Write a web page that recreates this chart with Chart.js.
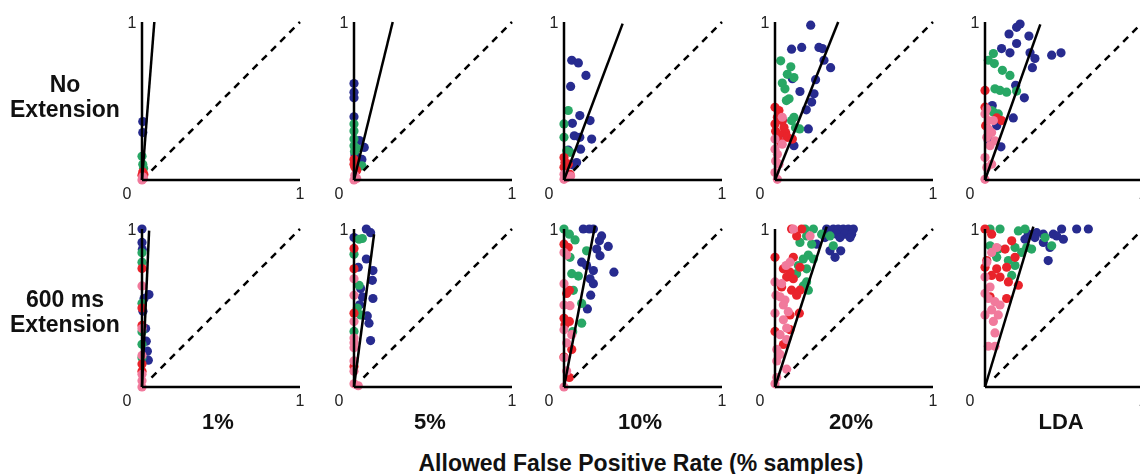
<!DOCTYPE html>
<html>
<head>
<meta charset="utf-8">
<script src="https://cdn.jsdelivr.net/npm/chart.js@4/dist/chart.umd.min.js"></script>
<style>
  html, body { margin: 0; padding: 0; background: #fff; overflow: hidden; }
  #fig { position: relative; width: 1140px; height: 474px; font-family: "Liberation Sans", Arial, sans-serif; color: #111; }
  #fig canvas { position: absolute; }
  .lbl { position: absolute; font-weight: bold; font-size: 22px; text-align: center; line-height: 25px; white-space: nowrap; }
</style>
</head>
<body>
<div id="fig"></div>
<script>
// ---- labels ----
const methodLabels = ['1%', '5%', '10%', '20%', 'LDA'];
const rowLabels = [['No', 'Extension'], ['600 ms', 'Extension']];
const xTitle = 'Allowed False Positive Rate (% samples)';

// ---- reference lines ----
const diagonal = [[0.06, 0.06], [1, 1]];
const slopeTop = [[0.078, 1.0], [0.245, 1.0], [0.371, 0.99], [0.40, 1.0], [0.35, 0.985]];
const slopeBottom = [[0.045, 0.99], [0.127, 0.967], [0.196, 1.02], [0.327, 1.015], [0.306, 1.015]];

// ---- No Extension (top row) ----
const top1Blue = [[0.005, 0.37], [0.005, 0.30]];
const top1Green = [[0, 0.15], [0.005, 0.10], [0.01, 0.075]];
const top1Red = [[0.005, 0.05], [0.012, 0.035], [0, 0.03]];
const top1Pink = [[0, 0], [0.01, 0.01], [0.005, 0.02]];

const top2Blue = [[0, 0.61], [0, 0.556], [0, 0.52], [0, 0.40], [0.034, 0.25], [0.065, 0.206], [0.05, 0.13], [0.006, 0.16]];
const top2Green = [[0, 0.355], [0, 0.31], [0, 0.26], [0, 0.217], [0.017, 0.2], [0.05, 0.09], [0.003, 0.18]];
const top2Red = [[0, 0.13], [0, 0.1], [0.006, 0.08], [0.017, 0.06]];
const top2Pink = [[0, 0], [0.017, 0.01], [0.005, 0.03]];

const top3Blue = [[0.049, 0.758], [0.091, 0.741], [0.139, 0.662], [0.042, 0.592], [0.10, 0.408], [0.165, 0.376], [0.053, 0.359], [0.065, 0.28], [0.10, 0.27], [0.175, 0.259], [0.105, 0.195], [0.027, 0.19], [0.08, 0.11], [0.059, 0.095]];
const top3Green = [[0.027, 0.44], [0, 0.355], [0, 0.27], [0.017, 0.185], [0.038, 0.175]];
const top3Red = [[0, 0.142], [0.006, 0.11], [0.027, 0.1], [0, 0.08], [0.038, 0.036]];
const top3Pink = [[0, 0.036], [0.017, 0.015], [0, 0.004], [0.042, 0.025]];

const top4Blue = [[0.226, 0.98], [0.105, 0.828], [0.169, 0.839], [0.278, 0.839], [0.30, 0.832], [0.31, 0.758], [0.352, 0.711], [0.11, 0.641], [0.257, 0.635], [0.158, 0.56], [0.247, 0.546], [0.232, 0.493], [0.198, 0.444], [0.211, 0.323], [0.12, 0.217], [0.046, 0.376], [0.068, 0.29]];
const top4Green = [[0.036, 0.754], [0.10, 0.716], [0.078, 0.669], [0.12, 0.648], [0.046, 0.614], [0.063, 0.577], [0.089, 0.514], [0.072, 0.503], [0.12, 0.397], [0.105, 0.376], [0.156, 0.323], [0.13, 0.33]];
const top4Red = [[0, 0.46], [0.025, 0.44], [0.015, 0.397], [0.046, 0.376], [0, 0.355], [0.057, 0.333], [0.004, 0.308], [0.067, 0.30], [0.025, 0.287], [0.078, 0.27], [0.11, 0.259], [0.036, 0.238]];
const top4Pink = [[0.046, 0.397], [0, 0.259], [0, 0.195], [0.015, 0.163], [0.004, 0.121], [0.025, 0.10], [0, 0.047], [0.015, 0.004], [0.046, 0.227]];

const top5Blue = [[0.222, 0.987], [0.20, 0.966], [0.152, 0.924], [0.278, 0.911], [0.20, 0.864], [0.105, 0.832], [0.158, 0.805], [0.285, 0.805], [0.316, 0.769], [0.30, 0.711], [0.422, 0.79], [0.481, 0.805], [0.194, 0.599], [0.249, 0.52], [0.179, 0.393], [0.046, 0.471], [0.074, 0.344], [0.101, 0.21], [0.021, 0.248]];
const top5Green = [[0.053, 0.80], [0.021, 0.758], [0.059, 0.737], [0.11, 0.694], [0.158, 0.662], [0.063, 0.577], [0.095, 0.567], [0.137, 0.556], [0.20, 0.563], [0.042, 0.44], [0.084, 0.418], [0.053, 0.43]];
const top5Red = [[0, 0.567], [0, 0.461], [0.074, 0.393], [0.105, 0.376], [0.004, 0.344]];
const top5Pink = [[0.011, 0.45], [0, 0.418], [0.021, 0.323], [0.042, 0.30], [0.011, 0.27], [0.063, 0.248], [0.032, 0.217], [0, 0.142], [0.042, 0.10], [0.011, 0.079], [0, 0.004], [0.021, 0.376], [0.053, 0.376]];

// ---- 600 ms Extension (bottom row) ----
const bot1Blue = [[0, 1.0], [0, 0.915], [0.002, 0.87], [0.044, 0.585], [0.013, 0.56], [0.023, 0.37], [0.027, 0.29], [0.034, 0.227], [0.04, 0.17], [0.006, 0.48]];
const bot1Green = [[0, 0.85], [0, 0.79], [0, 0.53], [0, 0.35], [0, 0.27], [0, 0.185]];
const bot1Red = [[0, 0.75], [0, 0.5], [0, 0.39], [0, 0.145], [0, 0.10]];
const bot1Pink = [[0, 0.64], [0, 0.37], [0, 0.2], [0, 0.08], [0, 0], [0, 0.04]];

const bot2Blue = [[0, 0.946], [0.078, 1.0], [0.105, 0.977], [0.078, 0.81], [0.027, 0.758], [0.12, 0.737], [0.116, 0.675], [0.042, 0.623], [0.12, 0.56], [0.036, 0.52], [0.095, 0.404], [0.105, 0.294], [0.053, 0.57], [0.084, 0.45]];
const bot2Green = [[0.032, 0.935], [0.053, 0.94], [0, 0.84], [0.032, 0.644], [0.042, 0.456], [0, 0.352], [0.021, 0.5]];
const bot2Red = [[0, 0.877], [0, 0.748], [0, 0.467], [0, 0.13]];
const bot2Pink = [[0, 0.685], [0, 0.58], [0, 0.415], [0, 0.31], [0, 0.248], [0, 0.165], [0, 0.10], [0, 0.02], [0.027, 0.008], [0, 0.28]];

const bot3Blue = [[0.122, 1.0], [0.16, 1.0], [0.186, 1.0], [0.238, 0.956], [0.224, 0.925], [0.28, 0.89], [0.207, 0.873], [0.228, 0.831], [0.112, 0.79], [0.143, 0.769], [0.186, 0.737], [0.316, 0.727], [0.165, 0.685], [0.186, 0.654], [0.169, 0.581], [0.148, 0.494]];
const bot3Green = [[0, 1.0], [0.034, 0.967], [0.07, 0.931], [0.038, 0.821], [0.143, 0.862], [0.049, 0.717], [0.091, 0.702], [0.059, 0.612], [0.112, 0.529], [0.112, 0.404], [0.055, 0.35]];
const bot3Red = [[0, 0.904], [0.027, 0.883], [0.034, 0.612], [0.017, 0.592], [0, 0.435], [0.034, 0.415], [0.006, 0.394], [0.049, 0.238], [0, 0.19], [0.034, 0.06]];
const bot3Pink = [[0, 0.852], [0.017, 0.835], [0, 0.654], [0, 0.519], [0.038, 0.515], [0, 0.362], [0.017, 0.279], [0, 0.185], [0.017, 0.102], [0, 0], [0.049, 0.331]];

const bot4Blue = [[0.327, 1.0], [0.369, 1.0], [0.40, 1.0], [0.432, 1.0], [0.464, 1.0], [0.496, 1.0], [0.348, 0.967], [0.39, 0.967], [0.443, 0.967], [0.485, 0.967], [0.316, 0.946], [0.411, 0.946], [0.475, 0.946], [0.264, 0.904], [0.348, 0.862], [0.416, 0.862], [0.38, 0.821]];
const bot4Green = [[0.19, 1.0], [0.243, 1.0], [0.295, 0.967], [0.20, 0.956], [0.348, 0.956], [0.158, 0.915], [0.232, 0.904], [0.369, 0.894], [0.211, 0.835], [0.179, 0.81], [0.243, 0.81], [0.148, 0.769], [0.20, 0.748], [0.137, 0.717], [0.20, 0.665], [0.211, 0.613], [0.179, 0.64]];
const bot4Red = [[0.105, 1.0], [0.169, 1.0], [0.137, 0.956], [0, 0.821], [0.116, 0.821], [0.053, 0.748], [0.095, 0.727], [0.158, 0.758], [0.074, 0.696], [0.116, 0.685], [0.042, 0.633], [0.105, 0.613], [0.158, 0.613], [0.137, 0.581], [0.154, 0.467], [0.095, 0.456], [0, 0.352], [0.095, 0.363], [0.053, 0.269]];
const bot4Pink = [[0.116, 1.0], [0.222, 0.956], [0.07, 0.769], [0.095, 0.79], [0, 0.665], [0.042, 0.654], [0.006, 0.581], [0.032, 0.571], [0.063, 0.55], [0.053, 0.519], [0, 0.467], [0.084, 0.477], [0.053, 0.425], [0.074, 0.373], [0.032, 0.331], [0.074, 0.30], [0.011, 0.238], [0.032, 0.206], [0.011, 0.165], [0.074, 0.113], [0.011, 0.06], [0, 0.02]];

const bot5Blue = [[0.274, 0.967], [0.327, 0.977], [0.369, 0.967], [0.432, 0.967], [0.485, 1.0], [0.496, 0.935], [0.58, 1.0], [0.654, 1.0], [0.369, 0.915], [0.316, 0.946], [0.411, 0.883], [0.40, 0.80], [0.454, 0.956], [0.253, 0.935]];
const bot5Green = [[0.032, 1.0], [0.095, 1.0], [0.211, 0.988], [0.253, 1.0], [0.38, 0.946], [0.032, 0.894], [0.084, 0.873], [0.19, 0.883], [0.264, 0.883], [0.232, 0.852], [0.074, 0.821], [0.148, 0.80], [0.19, 0.769], [0.169, 0.706], [0.295, 0.873], [0.422, 0.894]];
const bot5Red = [[0, 1.0], [0.042, 0.967], [0.169, 0.925], [0.127, 0.873], [0.19, 0.821], [0.011, 0.80], [0, 0.758], [0.074, 0.748], [0.137, 0.758], [0.042, 0.706], [0.095, 0.696], [0.148, 0.665], [0.211, 0.644], [0.137, 0.56], [0.032, 0.571]];
const bot5Pink = [[0.074, 0.883], [0.042, 0.852], [0.011, 0.79], [0, 0.696], [0.032, 0.633], [0, 0.592], [0.021, 0.56], [0.063, 0.54], [0.095, 0.519], [0.042, 0.488], [0, 0.456], [0.084, 0.456], [0.053, 0.415], [0.063, 0.342], [0.021, 0.258], [0.063, 0.258]];

const topRow = [
  [top1Blue, top1Green, top1Red, top1Pink],
  [top2Blue, top2Green, top2Red, top2Pink],
  [top3Blue, top3Green, top3Red, top3Pink],
  [top4Blue, top4Green, top4Red, top4Pink],
  [top5Blue, top5Green, top5Red, top5Pink]
];
const bottomRow = [
  [bot1Blue, bot1Green, bot1Red, bot1Pink],
  [bot2Blue, bot2Green, bot2Red, bot2Pink],
  [bot3Blue, bot3Green, bot3Red, bot3Pink],
  [bot4Blue, bot4Green, bot4Red, bot4Pink],
  [bot5Blue, bot5Green, bot5Red, bot5Pink]
];

// colours: blue, green, red, pink
const dotColors = ['#272b8f', '#28a765', '#e9232b', '#f17a9c'];

// ---- layout ----
const originX = [142, 354, 564, 775, 985];
const rowTop = [22, 229];
const PLOT = 158;
const PAD = { left: 30, top: 14, right: 12, bottom: 26 };

const fig = document.getElementById('fig');
const toXY = arr => arr.map(p => ({ x: p[0], y: p[1] }));

// tick labels "0" and "1" placed off the linear scales
const tickLabels = {
  id: 'tickLabels',
  afterDraw(chart) {
    const { ctx, scales: { x, y } } = chart;
    const x0 = x.getPixelForValue(0), x1 = x.getPixelForValue(1);
    const y0 = y.getPixelForValue(0), y1 = y.getPixelForValue(1);
    ctx.save();
    ctx.fillStyle = '#222';
    ctx.font = '16px "Liberation Sans", Arial, sans-serif';
    ctx.textAlign = 'center';
    ctx.textBaseline = 'middle';
    ctx.fillText('0', x0 - 15, y0 + 15);
    ctx.fillText('1', x1, y0 + 15);
    ctx.fillText('1', x0 - 10, y1 + 2);
    ctx.restore();
  }
};

function lineSet(points, dash) {
  return {
    data: toXY(points),
    showLine: true,
    borderColor: '#000',
    borderWidth: 2.5,
    borderDash: dash || [],
    pointRadius: 0,
    clip: false
  };
}

function makePanel(row, col, series, slope) {
  const canvas = document.createElement('canvas');
  const w = PAD.left + PLOT + PAD.right;
  const h = PAD.top + PLOT + PAD.bottom;
  canvas.width = w;
  canvas.height = h;
  canvas.style.left = (originX[col] - PAD.left) + 'px';
  canvas.style.top = (rowTop[row] - PAD.top) + 'px';
  fig.appendChild(canvas);

  // first dataset is drawn on top, so lines go first
  const datasets = [
    lineSet([[0, 0], [0, 1]]),
    lineSet([[0, 0], [1, 0]]),
    lineSet([[0, 0], slope]),
    lineSet(diagonal, [7, 6])
  ];
  [3, 2, 1, 0].forEach(i => {
    datasets.push({
      data: toXY(series[i]),
      pointRadius: 4.6,
      pointBackgroundColor: dotColors[i],
      pointBorderWidth: 0,
      borderColor: dotColors[i],
      showLine: false,
      clip: false
    });
  });

  new Chart(canvas, {
    type: 'scatter',
    data: { datasets },
    options: {
      responsive: false,
      animation: false,
      events: [],
      layout: { padding: PAD },
      plugins: { legend: { display: false }, tooltip: { enabled: false } },
      scales: {
        x: { type: 'linear', min: 0, max: 1, display: false },
        y: { type: 'linear', min: 0, max: 1, display: false }
      }
    },
    plugins: [tickLabels]
  });
}

topRow.forEach((s, c) => makePanel(0, c, s, slopeTop[c]));
bottomRow.forEach((s, c) => makePanel(1, c, s, slopeBottom[c]));

// ---- text labels ----
function addLabel(text, cx, cy, size) {
  const d = document.createElement('div');
  d.className = 'lbl';
  d.innerHTML = text;
  if (size) d.style.fontSize = size + 'px';
  fig.appendChild(d);
  d.style.left = (cx - d.offsetWidth / 2) + 'px';
  d.style.top = (cy - d.offsetHeight / 2) + 'px';
}

addLabel(rowLabels[0].join('<br>'), 65, 97, 23);
addLabel(rowLabels[1].join('<br>'), 65, 312, 23);
methodLabels.forEach((t, i) => addLabel(t, originX[i] + 76, 421));
addLabel(xTitle, 641, 463, 23);
</script>
</body>
</html>
